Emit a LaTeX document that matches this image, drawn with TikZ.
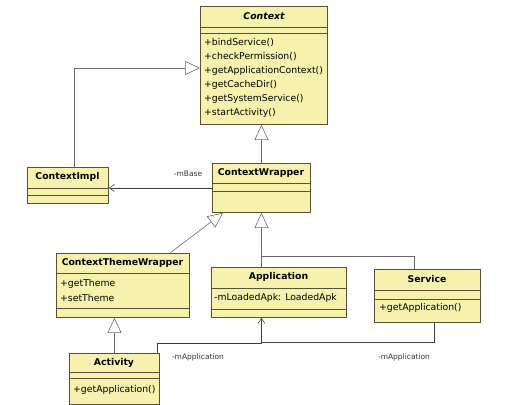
\documentclass[tikz,border=0pt]{standalone}
\usepackage{fontspec}
\setmainfont{DejaVu Sans}
\usetikzlibrary{arrows.meta}
\definecolor{boxfill}{RGB}{246,241,172}
\definecolor{boxline}{RGB}{90,80,55}
\definecolor{linkc}{RGB}{105,105,105}
\newcommand{\fs}{\fontsize{9.3}{11}\selectfont}

\begin{document}
\begin{tikzpicture}[x=1pt,y=-1pt,
    cls/.style={draw=boxline, fill=boxfill, rectangle, anchor=north west, inner sep=0pt, line width=0.9pt},
    sep/.style={draw=boxline, line width=0.7pt},
    ttl/.style={font=\fs\bfseries, inner sep=0pt},
    mth/.style={font=\fs, anchor=west, inner sep=0pt},
    lbl/.style={font=\fontsize{7.5}{9}\selectfont, inner sep=0pt, text=black!80},
    inherit/.style={draw=linkc, line width=0.6pt, -{Triangle[open, length=15pt, width=14pt]}},
    assoc/.style={draw=black!75, line width=0.6pt, -{Straight Barb[length=5pt, width=7pt]}},
    link/.style={draw=black!75, line width=0.6pt}]
    \useasboundingbox (0,0) rectangle (515,405);

    % Context
    \node[cls, minimum width=127pt, minimum height=118pt] (ctx) at (200,6) {};
    \draw[sep] ([yshift=-21pt]ctx.north west) -- ([yshift=-21pt]ctx.north east);
    \draw[sep] ([yshift=-27pt]ctx.north west) -- ([yshift=-27pt]ctx.north east);
    \node[ttl, font=\fs\bfseries\itshape] (ctx-t) at (264,16) {Context};
    \node[mth] (ctx-m1) at (204,43) {+bindService()};
    \node[mth] (ctx-m2) at (204,57) {+checkPermission()};
    \node[mth] (ctx-m3) at (204,71) {+getApplicationContext()};
    \node[mth] (ctx-m4) at (204,85) {+getCacheDir()};
    \node[mth] (ctx-m5) at (204,99) {+getSystemService()};
    \node[mth] (ctx-m6) at (204,113) {+startActivity()};

    % ContextImpl
    \node[cls, minimum width=81pt, minimum height=36pt] (impl) at (27,167) {};
    \draw[sep] ([yshift=-21pt]impl.north west) -- ([yshift=-21pt]impl.north east);
    \draw[sep] ([yshift=-28pt]impl.north west) -- ([yshift=-28pt]impl.north east);
    \node[ttl] (impl-t) at (67.5,177) {ContextImpl};

    % ContextWrapper
    \node[cls, minimum width=98pt, minimum height=49pt] (wrap) at (212,163) {};
    \draw[sep] ([yshift=-20pt]wrap.north west) -- ([yshift=-20pt]wrap.north east);
    \draw[sep] ([yshift=-28pt]wrap.north west) -- ([yshift=-28pt]wrap.north east);
    \node[ttl] (wrap-t) at (261,173) {ContextWrapper};

    % ContextThemeWrapper
    \node[cls, minimum width=133pt, minimum height=64pt] (theme) at (56,253) {};
    \draw[sep] ([yshift=-20pt]theme.north west) -- ([yshift=-20pt]theme.north east);
    \draw[sep] ([yshift=-55pt]theme.north west) -- ([yshift=-55pt]theme.north east);
    \node[ttl] (theme-t) at (122.5,263) {ContextThemeWrapper};
    \node[mth] (theme-m1) at (60,284) {+getTheme};
    \node[mth] (theme-m2) at (60,298) {+setTheme};

    % Application
    \node[cls, minimum width=135pt, minimum height=50pt] (app) at (211,267) {};
    \draw[sep] ([yshift=-21pt]app.north west) -- ([yshift=-21pt]app.north east);
    \draw[sep] ([yshift=-42pt]app.north west) -- ([yshift=-42pt]app.north east);
    \node[ttl] (app-t) at (278.5,277) {Application};
    \node[mth] (app-a1) at (214,298) {-mLoadedApk: LoadedApk};

    % Service
    \node[cls, minimum width=106pt, minimum height=53pt] (svc) at (374,269) {};
    \draw[sep] ([yshift=-21pt]svc.north west) -- ([yshift=-21pt]svc.north east);
    \draw[sep] ([yshift=-30pt]svc.north west) -- ([yshift=-30pt]svc.north east);
    \node[ttl] (svc-t) at (427,279) {Service};
    \node[mth] (svc-m1) at (379,308) {+getApplication()};

    % Activity
    \node[cls, minimum width=90pt, minimum height=51pt] (act) at (69,353) {};
    \draw[sep] ([yshift=-19pt]act.north west) -- ([yshift=-19pt]act.north east);
    \draw[sep] ([yshift=-25pt]act.north west) -- ([yshift=-25pt]act.north east);
    \node[ttl] (act-t) at (114,363) {Activity};
    \node[mth] (act-m1) at (73,390) {+getApplication()};

    % bends
    \coordinate (impl-up) at (74,68);
    \coordinate (svc-up) at (414,256);
    \coordinate (act-app) at (157,343);
    \coordinate (svc-app) at (434,342);
    \coordinate (theme-up) at (170,253);

    % inheritance
    \draw[inherit] (impl.north -| impl-up) |- (ctx.west |- impl-up);
    \draw[inherit] (wrap.north) -- (wrap.north |- ctx.south);
    \draw[inherit] (theme-up) -- ([xshift=11pt]wrap.south west);
    \draw[inherit] (app.north -| wrap.south) -- (wrap.south);
    \draw[draw=linkc, line width=0.6pt] (svc.north -| svc-up) -- (svc-up) -- (svc-up -| wrap.south);
    \draw[inherit] (act.north) -- (act.north |- theme.south);

    % associations
    \draw[assoc] (wrap.west) -- (wrap.west -| impl.east);
    \node[lbl] (mbase) at (188,174) {-mBase};
    \draw[assoc] (act.north -| act-app) -- (act-app) -- (act-app -| wrap.south) -- (app.south -| wrap.south);
    \draw[link] (svc.south -| svc-app) -- (svc-app) -- (svc-app -| wrap.south);
    \node[lbl] (act-lbl) at (198,357) {-mApplication};
    \node[lbl] (svc-lbl) at (404,357) {-mApplication};

\end{tikzpicture}
\end{document}
